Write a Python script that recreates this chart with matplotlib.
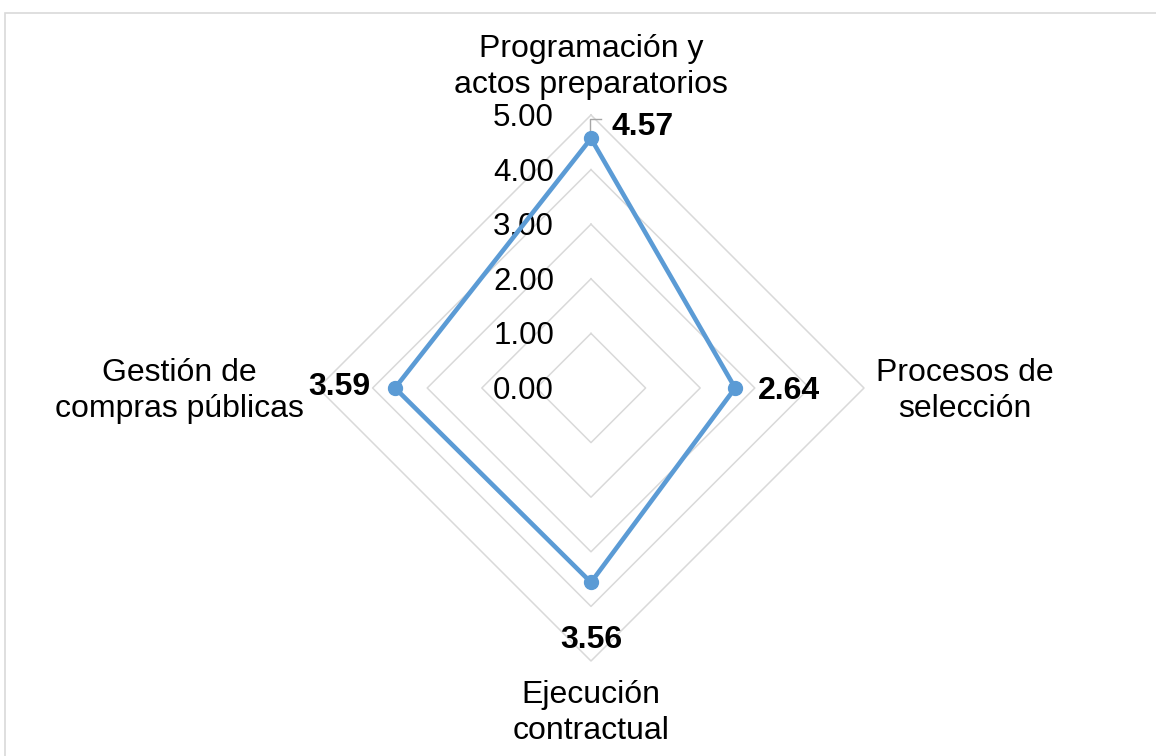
import numpy as np
import matplotlib
matplotlib.use("Agg")
import matplotlib.pyplot as plt
from matplotlib.patches import Rectangle

plt.rcParams['font.family'] = ['Liberation Sans', 'DejaVu Sans']

categories = ["Programación y\nactos preparatorios", "Procesos de\nselección",
              "Ejecución\ncontractual", "Gestión de\ncompras públicas"]
values = [4.57, 2.64, 3.56, 3.59]
levels = [0, 1, 2, 3, 4, 5]
tick_labels = ["0.00", "1.00", "2.00", "3.00", "4.00", "5.00"]

W, H = 1156, 756
cx, cy = 591, 388
rmax_px = 273
ppu = rmax_px / 5.0
FS = 23
DY = 3 / ppu  # small downward shift for text baseline alignment

fig = plt.figure(figsize=(W / 100, H / 100), dpi=100)
ax = fig.add_axes([0, 0, 1, 1])
ax.set_xlim(-cx / ppu, (W - cx) / ppu)
ax.set_ylim(-(H - cy) / ppu, cy / ppu)
ax.axis('off')

n = len(categories)
angles = np.pi / 2 - 2 * np.pi * np.arange(n) / n
ux, uy = np.cos(angles), np.sin(angles)

grid_c = '#D9D9D9'
for lv in levels[1:]:
    xs = np.append(ux * lv, ux[0] * lv)
    ys = np.append(uy * lv, uy[0] * lv)
    ax.plot(xs, ys, color=grid_c, lw=1.1, zorder=1)

# tick labels
for lv, tl in zip(levels, tick_labels):
    ax.text(-37 / ppu, lv - DY, tl, ha='right', va='center', fontsize=FS - 0.5, color='black')

v = np.array(values)
xs = np.append(ux * v, ux[0] * v[0])
ys = np.append(uy * v, uy[0] * v[0])
ax.plot(xs, ys, color='#5B9BD5', lw=3.3, zorder=3, solid_joinstyle='miter')
ax.plot(ux * v, uy * v, 'o', color='#5B9BD5', ms=10, zorder=4)

# category labels
ls = 1.24
ax.text(0, (cy - 67) / ppu, categories[0], ha='center', va='center', fontsize=FS, linespacing=ls)
ax.text((965 - cx) / ppu, (cy - 391) / ppu, categories[1], ha='center', va='center', fontsize=FS, linespacing=ls)
ax.text(0, (cy - 713) / ppu, categories[2], ha='center', va='center', fontsize=FS, linespacing=ls)
ax.text((179 - cx) / ppu, (cy - 391) / ppu, categories[3], ha='center', va='center', fontsize=FS, linespacing=ls)

# data labels
p0 = (ux[0] * v[0], uy[0] * v[0])
lx, ly = p0[0] - 1 / ppu, (cy - 119) / ppu
ax.plot([p0[0] - 1 / ppu, lx, lx + 11 / ppu], [p0[1], ly, ly], color='#A6A6A6', lw=1, zorder=2)
ax.text((611 - cx) / ppu, (cy - 124) / ppu - DY, f"{values[0]:.2f}", ha='left', va='center',
        fontsize=FS, fontweight='bold')
ax.text(ux[1] * v[1] + 23 / ppu, (cy - 388) / ppu - DY, f"{values[1]:.2f}", ha='left', va='center',
        fontsize=FS, fontweight='bold')
ax.text(0, (cy - 637) / ppu - DY, f"{values[2]:.2f}", ha='center', va='center',
        fontsize=FS, fontweight='bold')
ax.text((370 - cx) / ppu, (cy - 384) / ppu - DY, f"{values[3]:.2f}", ha='right', va='center',
        fontsize=FS, fontweight='bold')

fig.patches.append(Rectangle((5 / W, -0.1), 1.2, (H - 13) / H + 0.1, transform=fig.transFigure,
                             fill=False, edgecolor='#D9D9D9', lw=1.2))

fig.savefig('out.png', dpi=100)
